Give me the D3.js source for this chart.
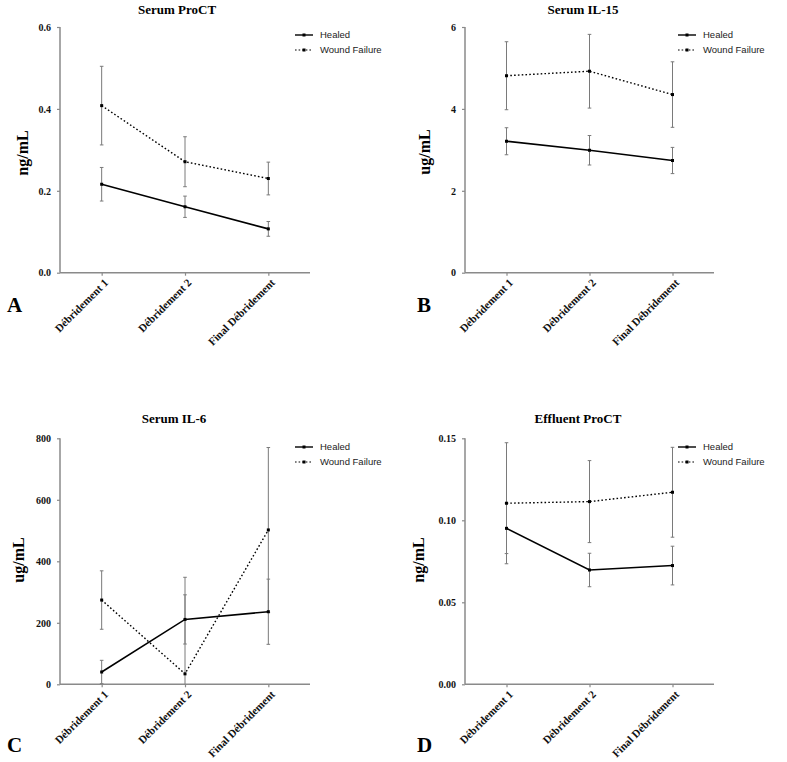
<!DOCTYPE html>
<html><head><meta charset="utf-8">
<script src="https://cdn.jsdelivr.net/npm/d3@7"></script>
<style>body{margin:0;background:#fff}svg{display:block}</style>
</head><body>
<svg id="c" width="787" height="762"></svg>
<script>
const categories = ["Débridement 1", "Débridement 2", "Final Débridement"];
const seriesNames = ["Healed", "Wound Failure"];

// Panel A: Serum ProCT (ng/mL)
const procHealed = [0.216, 0.161, 0.107];
const procHealedErr = [0.041, 0.026, 0.018];
const procFailure = [0.408, 0.271, 0.230];
const procFailureErr = [0.096, 0.061, 0.040];
const procTicks = [0.0, 0.2, 0.4, 0.6];

// Panel B: Serum IL-15 (ug/mL)
const il15Healed = [3.21, 2.99, 2.74];
const il15HealedErr = [0.33, 0.36, 0.32];
const il15Failure = [4.81, 4.92, 4.35];
const il15FailureErr = [0.83, 0.90, 0.80];
const il15Ticks = [0, 2, 4, 6];

// Panel C: Serum IL-6 (ug/mL)
const il6Healed = [40, 211, 236];
const il6HealedErr = [38, 80, 106];
const il6Failure = [274, 34, 502];
const il6FailureErr = [95, 314, 268];
const il6Ticks = [0, 200, 400, 600, 800];

// Panel D: Effluent ProCT (ng/mL)
const effHealed = [0.0951, 0.0697, 0.0724];
const effHealedErr = [0.0154, 0.0102, 0.0118];
const effFailure = [0.1104, 0.1114, 0.1171];
const effFailureErr = [0.0369, 0.0250, 0.0274];
const effTicks = [0.00, 0.05, 0.10, 0.15];

const panels = [
  {letter:"A", title:"Serum ProCT", ylab:"ng/mL", h:procHealed, he:procHealedErr, f:procFailure, fe:procFailureErr, ticks:procTicks, fmt:d3.format(".1f"),
   x0:60, x1:310, yTop:27, yBot:272.7, titleX:177, titleY:14, ylabX:22, ylabY:153, letterX:7, letterY:312, legX:295, legY:35},
  {letter:"B", title:"Serum IL-15", ylab:"ug/mL", h:il15Healed, he:il15HealedErr, f:il15Failure, fe:il15FailureErr, ticks:il15Ticks, fmt:d3.format("d"),
   x0:465, x1:714, yTop:27, yBot:272.7, titleX:583, titleY:14, ylabX:424, ylabY:152, letterX:417, letterY:312, legX:678, legY:35},
  {letter:"C", title:"Serum IL-6", ylab:"ug/mL", h:il6Healed, he:il6HealedErr, f:il6Failure, fe:il6FailureErr, ticks:il6Ticks, fmt:d3.format("d"),
   x0:60, x1:310, yTop:438.3, yBot:684.3, titleX:174, titleY:423, ylabX:18, ylabY:560, letterX:7, letterY:752, legX:295, legY:447},
  {letter:"D", title:"Effluent ProCT", ylab:"ng/mL", h:effHealed, he:effHealedErr, f:effFailure, fe:effFailureErr, ticks:effTicks, fmt:d3.format(".2f"),
   x0:465, x1:714, yTop:438.3, yBot:684.3, titleX:578, titleY:423, ylabX:418, ylabY:560, letterX:417, letterY:752, legX:678, legY:447}
];

const svg = d3.select("#c");
const serif = "'Liberation Serif','Times New Roman',serif";
const sans = "'Liberation Sans',Arial,sans-serif";
const axisCol = "#8a8a8a";
const errCol = "#7a7a7a";

panels.forEach(p => {
  const g = svg.append("g");
  const x = d3.scalePoint().domain(categories).range([p.x0, p.x1]).padding(0.5);
  const y = d3.scaleLinear().domain([p.ticks[0], p.ticks[p.ticks.length-1]]).range([p.yBot, p.yTop]);

  // y axis
  const ya = g.append("g").attr("transform", `translate(${p.x0},0)`)
    .call(d3.axisLeft(y).tickValues(p.ticks).tickFormat(p.fmt).tickSize(3).tickPadding(6));
  ya.select(".domain").attr("stroke", axisCol).attr("stroke-width", 1.5).attr("d", `M0,${p.yTop}V${p.yBot}`);
  ya.selectAll(".tick line").attr("stroke", axisCol).attr("stroke-width", 1.2);
  ya.selectAll(".tick text").attr("font-family", serif).attr("font-weight", "bold").attr("font-size", 10).attr("fill", "#111");

  // x axis
  const xa = g.append("g").attr("transform", `translate(0,${p.yBot})`)
    .call(d3.axisBottom(x).tickSize(3).tickPadding(4));
  xa.select(".domain").attr("stroke", axisCol).attr("stroke-width", 1.5).attr("d", `M${p.x0},0H${p.x1}`);
  xa.selectAll(".tick line").attr("stroke", axisCol).attr("stroke-width", 1.2);
  xa.selectAll(".tick text").attr("font-family", serif).attr("font-weight", "bold").attr("font-size", 11).attr("fill", "#111")
    .attr("text-anchor", "end").attr("dy", "0.35em").attr("transform", "translate(4,8) rotate(-45)").attr("y", 0).attr("x", 0);

  // error bars
  const groups = [[p.h, p.he], [p.f, p.fe]];
  groups.forEach(([vals, errs]) => {
    vals.forEach((v, i) => {
      const cx = x(categories[i]);
      const lo = Math.max(v - errs[i], p.ticks[0]);
      const hi = v + errs[i];
      g.append("line").attr("x1", cx).attr("x2", cx).attr("y1", y(hi)).attr("y2", y(lo))
        .attr("stroke", errCol).attr("stroke-width", 1);
      g.append("line").attr("x1", cx-1.8).attr("x2", cx+1.8).attr("y1", y(hi)).attr("y2", y(hi))
        .attr("stroke", errCol).attr("stroke-width", 1);
      if (v - errs[i] >= p.ticks[0])
        g.append("line").attr("x1", cx-1.8).attr("x2", cx+1.8).attr("y1", y(lo)).attr("y2", y(lo))
          .attr("stroke", errCol).attr("stroke-width", 1);
    });
  });

  const line = d3.line().x((d, i) => x(categories[i])).y(d => y(d));
  g.append("path").datum(p.h).attr("d", line).attr("fill", "none").attr("stroke", "#000").attr("stroke-width", 1.6);
  g.append("path").datum(p.f).attr("d", line).attr("fill", "none").attr("stroke", "#000").attr("stroke-width", 1.4).attr("stroke-dasharray", "1.6,2.2");

  [p.h, p.f].forEach(vals => {
    g.selectAll(null).data(vals).enter().append("rect")
      .attr("x", (d, i) => x(categories[i]) - 1.5).attr("y", d => y(d) - 1.5)
      .attr("width", 3).attr("height", 3).attr("fill", "#000");
  });

  // title
  g.append("text").attr("x", p.titleX).attr("y", p.titleY).attr("text-anchor", "middle")
    .attr("font-family", serif).attr("font-weight", "bold").attr("font-size", 13).text(p.title);
  // y label
  g.append("text").attr("transform", `translate(${p.ylabX},${p.ylabY}) rotate(-90)`).attr("text-anchor", "middle")
    .attr("dy", "0.35em").attr("font-family", serif).attr("font-weight", "bold").attr("font-size", 16).text(p.ylab);
  // letter
  g.append("text").attr("x", p.letterX).attr("y", p.letterY).attr("font-family", serif).attr("font-weight", "bold")
    .attr("font-size", 21).text(p.letter);

  // legend
  seriesNames.forEach((s, k) => {
    const ly = p.legY + k * 15;
    g.append("line").attr("x1", p.legX).attr("x2", p.legX + 18).attr("y1", ly).attr("y2", ly)
      .attr("stroke", "#000").attr("stroke-width", k ? 1.2 : 1.4).attr("stroke-dasharray", k ? "1.6,2" : null);
    g.append("rect").attr("x", p.legX + 7.5).attr("y", ly - 1.5).attr("width", 3).attr("height", 3).attr("fill", "#000");
    g.append("text").attr("x", p.legX + 25).attr("y", ly).attr("dy", "0.35em").attr("font-family", sans)
      .attr("font-size", 9.5).attr("fill", "#222").text(s);
  });
});
</script>
</body></html>
